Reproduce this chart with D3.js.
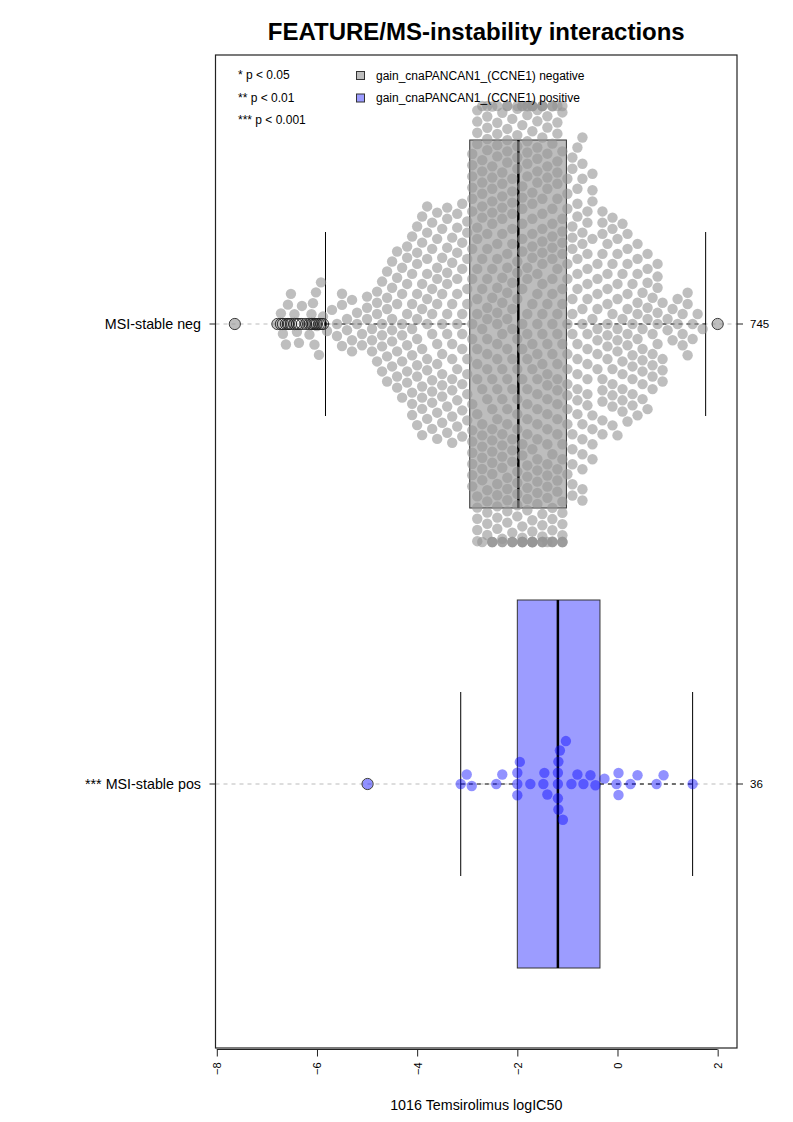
<!DOCTYPE html>
<html><head><meta charset="utf-8">
<script src="https://cdn.jsdelivr.net/npm/d3@7"></script>
<style>body{margin:0;background:#fff} text{font-family:"Liberation Sans",Arial,Helvetica,sans-serif}</style>
</head><body><svg id="c" width="793" height="1122"></svg>
<script>
// ---------------- data ----------------
const groupLabels = ["MSI-stable neg", "*** MSI-stable pos"];
const groupCounts = ["745", "36"];
const xTicks = [-8, -6, -4, -2, 0, 2];
const legendStars = ["* p < 0.05", "** p < 0.01", "*** p < 0.001"];
const legendNames = ["gain_cnaPANCAN1_(CCNE1) negative", "gain_cnaPANCAN1_(CCNE1) positive"];

// negative group: sparse low tail, read point by point
const negTail = [-7.64, -6.79, -6.72, -6.68, -6.62, -6.58, -6.56, -6.52, -6.45, -6.40, -6.36,
  -6.30, -6.22, -6.15, -6.11, -6.08, -6.05, -6.02, -6.00, -5.96, -5.92, -5.88];
// negative group: the dense body, as a histogram (bin value, count)
const negBinValues = [-5.8, -5.7, -5.6, -5.5, -5.4, -5.3, -5.2, -5.1, -5.0, -4.9, -4.8, -4.7, -4.6, -4.5,
  -4.4, -4.3, -4.2, -4.1, -4.0, -3.9, -3.8, -3.7, -3.6, -3.5, -3.4, -3.3, -3.2, -3.1, -3.0,
  -2.9, -2.8, -2.7, -2.6, -2.5, -2.4, -2.3, -2.2, -2.1, -2.0,
  -1.9, -1.8, -1.7, -1.6, -1.5, -1.4, -1.3, -1.2, -1.1,
  -1.0, -0.9, -0.8, -0.7, -0.6, -0.5, -0.4, -0.3, -0.2, -0.1, 0.0, 0.1, 0.2, 0.3, 0.4, 0.5,
  0.6, 0.7, 0.8, 0.9, 1.0, 1.1, 1.2, 1.3, 1.4, 1.5, 1.6, 1.7];
const negBinCounts = [1, 1, 2, 3, 2, 3, 2, 2, 3, 3, 4, 5, 5, 6,
  6, 6, 7, 8, 9, 9, 9, 9, 9, 9, 9, 9, 9, 9, 9,
  17, 18, 18, 19, 19, 19, 19, 19, 19, 19,
  21, 21, 21, 20, 20, 19, 19, 19, 19,
  13, 13, 13, 13, 12, 9, 8, 9, 8, 9, 8, 8, 8, 7, 7, 7,
  6, 6, 6, 4, 2, 2, 2, 3, 3, 2, 1, 1];
const negHigh = [2.0];

const posValues = [-4.99, -3.13, -3.01, -2.91, -2.42, -2.30, -2.00, -2.00, -2.00, -1.95,
  -1.74, -1.48, -1.46, -1.40, -1.19, -1.19, -1.19, -1.18, -1.18, -1.15, -1.09, -1.03,
  -0.92, -0.80, -0.68, -0.54, -0.44, -0.26, -0.02, 0.02, 0.02, 0.26, 0.40, 0.78, 0.92, 1.50];

// box statistics (Tukey) per group
const boxQ1 = [-2.95, -2.00];
const boxMed = [-1.98, -1.19];
const boxQ3 = [-1.02, -0.35];
const whiskLo = [-5.83, -3.13];
const whiskHi = [1.76, 1.50];

// ---------------- layout ----------------
const svg = d3.select("#c");
const L = 215.5, R = 737, T = 55, B = 1048;
const x = d3.scaleLinear().domain([-8.026, 2.386]).range([L, R]);
const y = d3.scaleLinear().domain([0, 1]).range([324, 784]);
const boxHalf = 184, stapleHalf = 92, corral = 218, D = 11.2, rDot = 5.2;
const dotFill = ["rgb(150,150,150)", "rgb(0,0,255)"];
const dotOpacity = [0.62, 0.43];
const boxFill = ["#bdbdbd", "#9c9cff"];
const FONT = "Liberation Sans, Arial, sans-serif";

const negValues = negTail.concat(...negBinValues.map((v, i) => Array(negBinCounts[i]).fill(v)), negHigh);
const groupValues = [negValues, posValues];

function swarm(px, d) {
  const order = d3.range(px.length).sort((a, b) => px[a] - px[b] || a - b);
  const PX = [], PY = [], out = new Array(px.length);
  for (const i of order) {
    const xi = px[i];
    const nx = [], ny = [];
    for (let k = 0; k < PX.length; k++) if (Math.abs(xi - PX[k]) < d) { nx.push(PX[k]); ny.push(PY[k]); }
    let best = 0;
    if (nx.length) {
      const offs = nx.map(v => Math.sqrt(d * d - (xi - v) ** 2));
      const cands = [0].concat(ny.map((v, k) => v + offs[k]), ny.map((v, k) => v - offs[k]));
      let bestAbs = Infinity; best = null;
      for (const c of cands) {
        if (Math.abs(c) >= bestAbs) continue;
        let ok = true;
        for (let k = 0; k < nx.length; k++) {
          if ((xi - nx[k]) ** 2 + (c - ny[k]) ** 2 < 0.999 * d * d) { ok = false; break; }
        }
        if (ok) { best = c; bestAbs = Math.abs(c); }
      }
    }
    PX.push(xi); PY.push(best); out[i] = best;
  }
  return out;
}

// center dashed lines
svg.append("g").selectAll("line").data(groupLabels).join("line")
  .attr("x1", L).attr("x2", R).attr("y1", (d, i) => y(i)).attr("y2", (d, i) => y(i))
  .attr("stroke", "#bbbbbb").attr("stroke-dasharray", "4,4").attr("stroke-width", 1);

// boxes
groupLabels.forEach((g, i) => {
  const cy = y(i);
  const gg = svg.append("g");
  gg.append("rect").attr("x", x(boxQ1[i])).attr("width", x(boxQ3[i]) - x(boxQ1[i]))
    .attr("y", cy - boxHalf).attr("height", 2 * boxHalf)
    .attr("fill", boxFill[i]).attr("stroke", "#333").attr("stroke-width", 1);
  gg.append("line").attr("x1", x(whiskLo[i])).attr("x2", x(boxQ1[i])).attr("y1", cy).attr("y2", cy)
    .attr("stroke", "#000").attr("stroke-dasharray", "4,4");
  gg.append("line").attr("x1", x(boxQ3[i])).attr("x2", x(whiskHi[i])).attr("y1", cy).attr("y2", cy)
    .attr("stroke", "#000").attr("stroke-dasharray", "4,4");
  [whiskLo[i], whiskHi[i]].forEach(w => gg.append("line").attr("x1", x(w)).attr("x2", x(w))
    .attr("y1", cy - stapleHalf).attr("y2", cy + stapleHalf).attr("stroke", "#000").attr("stroke-width", 1));
  gg.append("line").attr("x1", x(boxMed[i])).attr("x2", x(boxMed[i]))
    .attr("y1", cy - boxHalf).attr("y2", cy + boxHalf).attr("stroke", "#000").attr("stroke-width", 2.5);
});

// swarms
groupValues.forEach((vals, i) => {
  const px = vals.map(v => x(v));
  const off = swarm(px, D).map(o => Math.max(-corral, Math.min(corral, o)));
  svg.append("g").selectAll("circle").data(vals).join("circle")
    .attr("cx", (d, k) => px[k]).attr("cy", (d, k) => y(i) - off[k]).attr("r", rDot)
    .attr("fill", dotFill[i]).attr("fill-opacity", dotOpacity[i]);
  const outl = vals.filter(v => v < whiskLo[i] || v > whiskHi[i]);
  svg.append("g").selectAll("circle").data(outl).join("circle")
    .attr("cx", d => x(d)).attr("cy", y(i)).attr("r", 5.6)
    .attr("fill", "none").attr("stroke", "#222").attr("stroke-width", 0.9);
});

// frame
svg.append("rect").attr("x", L).attr("y", T).attr("width", R - L).attr("height", B - T)
  .attr("fill", "none").attr("stroke", "#222").attr("stroke-width", 1.2);

// x axis
const xa = svg.append("g").attr("transform", `translate(0,${B + 1.5})`)
  .call(d3.axisBottom(x).tickValues(xTicks).tickSize(7).tickSizeOuter(0).tickFormat(d3.format("d")));
xa.select(".domain").remove();
xa.append("line").attr("x1", x(xTicks[0])).attr("x2", x(xTicks[xTicks.length - 1]))
  .attr("stroke", "#222").attr("stroke-width", 1);
xa.selectAll(".tick line").attr("stroke", "#222");
xa.selectAll(".tick text").attr("font-size", 11).attr("fill", "#000")
  .attr("transform", "rotate(-90)").attr("text-anchor", "end").attr("x", -13).attr("y", 0).attr("dy", "0.35em")
  .attr("font-family", FONT);

svg.append("text").attr("x", (L + R) / 2).attr("y", 1110).attr("text-anchor", "middle")
  .attr("font-size", 14.3).text("1016 Temsirolimus logIC50");

// y axis (left labels + ticks) and right counts
const ya = svg.append("g");
groupLabels.forEach((g, i) => {
  ya.append("line").attr("x1", L - 6).attr("x2", L).attr("y1", y(i)).attr("y2", y(i)).attr("stroke", "#222");
  ya.append("text").attr("x", 201).attr("y", y(i)).attr("dy", "0.35em").attr("text-anchor", "end")
    .attr("font-size", 14.3).text(g);
  ya.append("line").attr("x1", R).attr("x2", R + 6).attr("y1", y(i)).attr("y2", y(i)).attr("stroke", "#222");
  ya.append("text").attr("x", 750).attr("y", y(i)).attr("dy", "0.35em").attr("text-anchor", "start")
    .attr("font-size", 11.5).text(groupCounts[i]);
});

// title
svg.append("text").attr("x", (L + R) / 2).attr("y", 40).attr("text-anchor", "middle")
  .attr("font-size", 24).attr("font-weight", "bold").text("FEATURE/MS-instability interactions");

// legends
const lg = svg.append("g");
legendStars.forEach((t, i) => lg.append("text").attr("x", 238).attr("y", 75 + i * 22.5).attr("dy", "0.35em")
  .attr("font-size", 12).text(t));
legendNames.forEach((t, i) => {
  lg.append("rect").attr("x", 356.5).attr("y", 71.5 + i * 22.5).attr("width", 8).attr("height", 8)
    .attr("fill", boxFill[i]).attr("stroke", "#333");
  lg.append("text").attr("x", 376).attr("y", 75.5 + i * 22.5).attr("dy", "0.35em").attr("font-size", 12).text(t);
});
</script></body></html>
